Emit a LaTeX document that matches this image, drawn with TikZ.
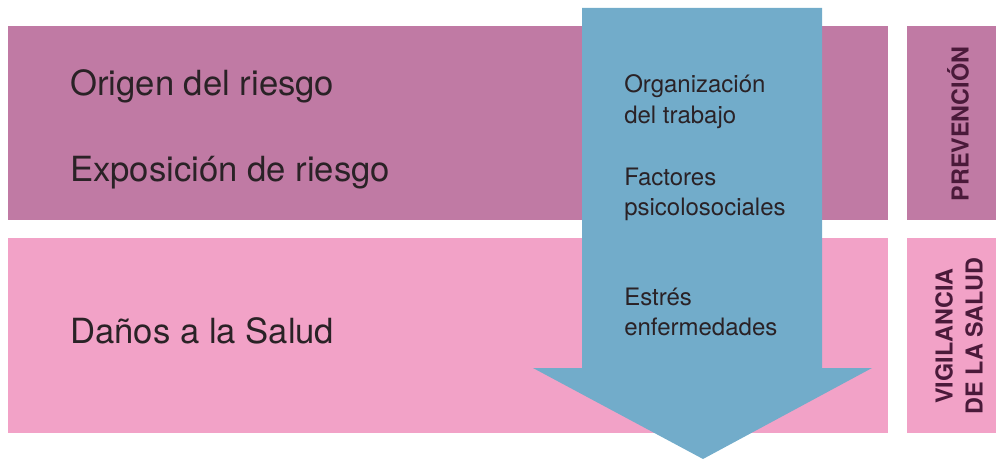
\documentclass[tikz,border=0pt]{standalone}
\usepackage{fontspec}
\setmainfont{TeX Gyre Heros}
\usepackage{tikz}
\usetikzlibrary{positioning}
\definecolor{mmauve}{RGB}{192, 122, 164}
\definecolor{mpink}{RGB}{242, 162, 199}
\definecolor{mblue}{RGB}{114, 172, 202}
\definecolor{mdark}{RGB}{42, 34, 38}
\definecolor{mplum}{RGB}{74, 26, 58}
\tikzset{biglabel/.style = {anchor = base west, inner sep = 0, text = mdark, font = \fontsize{26}{30}\selectfont}}
\tikzset{smalllabel/.style = {anchor = base west, inner sep = 0, text = mdark, font = \fontsize{18}{22.5}\selectfont}}
\tikzset{sidelabel/.style = {rotate = 90, inner sep = 0, text = mplum, align = center, font = \bfseries\fontsize{17.5}{22.5}\selectfont}}

\begin{document}
\begin{tikzpicture}[x = 0.75pt, y = -0.75pt]
      \useasboundingbox (0, 0) rectangle (996, 460);
      % bands
      \fill [mmauve] (8, 26) rectangle (888, 220);
      \fill [mpink] (8, 238) rectangle (888, 433);
      \fill [mmauve] (907, 26) rectangle (996, 220);
      \fill [mpink] (907, 238) rectangle (996, 433);
      % arrow
      \fill [mblue] (582, 8) -- (822, 8) -- (822, 368) -- (872, 368) -- (703, 459)
        -- (533, 368) -- (582, 368) -- cycle;
      \node [biglabel] (origen) at (70, 96) {Origen del riesgo};
      \node [biglabel] (exposicion) at (70, 181) {Exposición de riesgo};
      \node [biglabel] (danos) at (70, 343) {Daños a la Salud};
      \node [smalllabel] (organizacion) at (624, 93) {Organización};
      \node [smalllabel] (trabajo) at (624, 123) {del trabajo};
      \node [smalllabel] (factores) at (624, 185) {Factores};
      \node [smalllabel] (psico) at (624, 215) {psicolosociales};
      \node [smalllabel] (estres) at (624, 305) {Estrés};
      \node [smalllabel] (enfermedades) at (624, 335) {enfermedades};
      \node [sidelabel] (prevencion) at (958, 124) {PREVENCIÓN};
      \node [sidelabel] (vigilancia) at (959, 336) {VIGILANCIA\\DE LA SALUD};
    \end{tikzpicture}
\end{document}
